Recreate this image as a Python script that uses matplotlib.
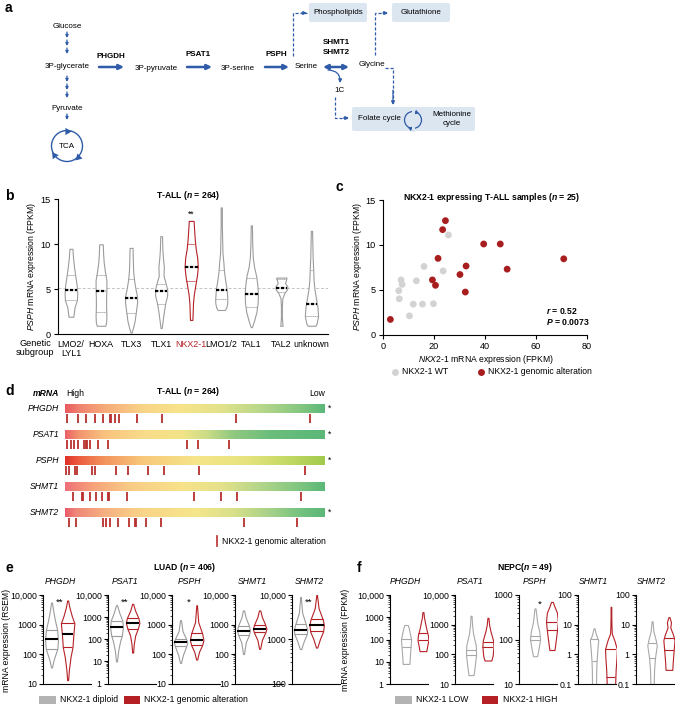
import numpy as np
import matplotlib
matplotlib.use("Agg")
import matplotlib.pyplot as plt
from matplotlib.patches import FancyBboxPatch, Circle, Rectangle, FancyArrowPatch
from matplotlib.colors import LinearSegmentedColormap
from matplotlib.ticker import FixedLocator, LogLocator, NullFormatter

plt.rcParams["font.family"] = ["Liberation Sans", "DejaVu Sans"]
plt.rcParams["mathtext.fontset"] = "custom"
plt.rcParams["mathtext.rm"] = "Liberation Sans"
plt.rcParams["mathtext.it"] = "Liberation Sans:italic"
plt.rcParams["mathtext.bf"] = "Liberation Sans:bold"
plt.rcParams["mathtext.bfit"] = "Liberation Sans:bold:italic"

# ====== DATA ======

# b: PSPH expression by T-ALL subgroup (violin profiles)
b_groups = ["LMO2/\nLYL1", "HOXA", "TLX3", "TLX1", "NKX2-1", "LMO1/2", "TAL1", "TAL2", "unknown"]
b_median = [4.9, 4.85, 4.05, 4.8, 7.5, 4.9, 4.5, 5.1, 3.35]
b_q1 = [3.8, 2.5, 2.35, 3.4, 5.9, 3.9, 3.0, 4.75, 2.05]
b_q3 = [6.6, 6.6, 6.2, 5.6, 10.0, 7.1, 6.3, 6.2, 7.2]
b_prof_y = [
    [1.95, 2.2, 3.0, 3.8, 4.5, 5.5, 6.6, 7.6, 8.5, 9.5],
    [0.95, 1.3, 2.0, 3.0, 4.0, 5.0, 6.0, 7.0, 8.0, 9.0, 10.0],
    [0.2, 0.8, 1.5, 2.5, 3.5, 4.2, 5.0, 6.0, 7.0, 8.0, 9.6],
    [0.7, 1.5, 2.5, 3.5, 4.3, 5.0, 5.8, 6.5, 7.5, 8.5, 9.5, 10.9],
    [1.6, 2.5, 3.5, 4.5, 5.5, 6.5, 7.5, 8.5, 9.5, 10.5, 11.5, 12.6],
    [2.7, 3.0, 3.5, 4.0, 5.0, 6.0, 7.0, 8.0, 9.0, 10.5, 12.0, 14.1],
    [0.8, 1.5, 2.5, 3.5, 4.5, 5.5, 6.5, 7.5, 8.5, 10.0, 12.1],
    [0.95, 1.2, 2.0, 3.0, 4.0, 4.6, 5.0, 5.3, 5.7, 6.0, 6.3],
    [0.95, 1.2, 2.0, 3.0, 4.0, 5.0, 6.0, 7.0, 8.5, 10.0, 11.5],
]
b_prof_w = [
    [0.08, 0.09, 0.12, 0.2, 0.21, 0.19, 0.14, 0.1, 0.07, 0.05],
    [0.14, 0.17, 0.18, 0.17, 0.17, 0.18, 0.18, 0.13, 0.09, 0.07, 0.06],
    [0.02, 0.07, 0.12, 0.16, 0.2, 0.2, 0.15, 0.1, 0.07, 0.06, 0.05],
    [0.02, 0.05, 0.09, 0.14, 0.2, 0.2, 0.14, 0.08, 0.09, 0.06, 0.04, 0.03],
    [0.04, 0.05, 0.06, 0.09, 0.14, 0.19, 0.22, 0.2, 0.15, 0.12, 0.1, 0.08],
    [0.12, 0.17, 0.2, 0.2, 0.18, 0.13, 0.09, 0.07, 0.04, 0.03, 0.02, 0.02],
    [0.02, 0.09, 0.17, 0.21, 0.22, 0.2, 0.16, 0.09, 0.05, 0.03, 0.02],
    [0.04, 0.03, 0.015, 0.015, 0.03, 0.1, 0.19, 0.2, 0.12, 0.15, 0.17],
    [0.13, 0.17, 0.22, 0.2, 0.15, 0.1, 0.07, 0.06, 0.04, 0.03, 0.02],
]
b_overall_median = 5.2

# c: NKX2-1 vs PSPH in NKX2-1 expressing samples
c_wt_x = [25.8, 16.2, 7.2, 7.6, 13.2, 6.3, 6.5, 12.0, 15.6, 19.9, 23.7, 10.5]
c_wt_y = [11.1, 7.6, 6.1, 5.6, 6.0, 4.9, 4.0, 3.4, 3.4, 3.45, 7.1, 2.1]
c_alt_x = [24.6, 23.5, 39.6, 46.1, 21.7, 71.0, 32.7, 48.8, 30.3, 19.5, 20.7, 32.4, 3.0]
c_alt_y = [12.7, 11.7, 10.1, 10.1, 8.5, 8.45, 7.65, 7.3, 6.7, 6.1, 5.5, 4.75, 1.7]

# d: rank (out of 264, high -> low) of samples with NKX2-1 alteration
d_genes = ["PHGDH", "PSAT1", "PSPH", "SHMT1", "SHMT2"]
d_n = 264
d_ranks_phgdh = [2, 13, 21, 30, 39, 46, 47, 51, 55, 73, 98, 174, 249]
d_ranks_psat1 = [2, 6, 9, 13, 19, 21, 22, 25, 33, 44, 124, 135, 167]
d_ranks_psph = [1, 4, 10, 12, 27, 30, 52, 64, 84, 101, 136, 244]
d_ranks_shmt1 = [8, 17, 18, 25, 31, 38, 44, 45, 63, 131, 158, 175, 240]
d_ranks_shmt2 = [4, 11, 39, 42, 46, 54, 65, 71, 72, 82, 97, 182, 236]
d_signif = ["*", "*", "*", "", "*"]

# e: LUAD, RSEM
e_genes = ["PHGDH", "PSAT1", "PSPH", "SHMT1", "SHMT2"]
e_ylow = [10, 1, 10, 10, 100]
e_stars = ["**", "**", "*", "", "**"]
e_dip_y = [[35, 60, 100, 150, 300, 650, 1500, 3000, 5500],
           [10, 30, 80, 150, 350, 700, 1500, 3500],
           [50, 90, 190, 250, 330, 600, 1400],
           [100, 250, 450, 620, 900, 1800, 3000],
           [600, 900, 1300, 1650, 2200, 4000, 9000]]
e_dip_w = [[0.03, 0.12, 0.25, 0.36, 0.4, 0.35, 0.2, 0.1, 0.03],
           [0.03, 0.1, 0.22, 0.33, 0.4, 0.36, 0.18, 0.03],
           [0.03, 0.14, 0.36, 0.42, 0.34, 0.12, 0.03],
           [0.03, 0.14, 0.34, 0.4, 0.34, 0.12, 0.04],
           [0.04, 0.2, 0.38, 0.42, 0.32, 0.1, 0.02]]
e_alt_y = [[13, 30, 80, 170, 500, 1100, 2000, 4000, 6500],
           [25, 60, 150, 300, 550, 900, 2000, 4000],
           [65, 120, 200, 300, 500, 1200, 4500],
           [150, 300, 550, 720, 1000, 1800, 3000],
           [650, 1000, 1500, 2100, 2800, 5000, 10000]]
e_alt_w = [[0.03, 0.08, 0.18, 0.3, 0.36, 0.42, 0.25, 0.1, 0.03],
           [0.03, 0.07, 0.16, 0.32, 0.42, 0.36, 0.15, 0.03],
           [0.03, 0.15, 0.34, 0.42, 0.34, 0.1, 0.02],
           [0.03, 0.14, 0.36, 0.42, 0.34, 0.14, 0.04],
           [0.04, 0.2, 0.4, 0.45, 0.38, 0.12, 0.02]]
e_dip_med = [330, 350, 250, 620, 1650]
e_alt_med = [480, 550, 300, 720, 2100]
e_dip_quart = [[150, 650], [140, 700], [190, 330], [450, 900], [1300, 2200]]
e_alt_quart = [[170, 1100], [300, 900], [200, 500], [550, 1000], [1500, 2800]]

# f: NEPC, FPKM
f_genes = ["PHGDH", "PSAT1", "PSPH", "SHMT1", "SHMT2"]
f_ylow = [1, 10, 10, 0.1, 0.1]
f_yhigh = [10000, 10000, 1000, 100, 100]
f_stars = ["", "", "*", "", ""]
f_low_y = [[8, 15, 40, 100, 200, 350, 450],
           [20, 40, 100, 200, 500, 1000, 2000],
           [42, 60, 100, 150, 250, 400, 500],
           [0.1, 0.3, 0.6, 1.5, 3.0, 4.5, 7.5],
           [0.1, 0.3, 0.8, 2, 3, 6, 13]]
f_low_w = [[0.2, 0.22, 0.26, 0.3, 0.22, 0.15, 0.1],
           [0.15, 0.22, 0.3, 0.28, 0.12, 0.06, 0.03],
           [0.12, 0.2, 0.3, 0.25, 0.12, 0.06, 0.03],
           [0.12, 0.13, 0.15, 0.2, 0.25, 0.12, 0.03],
           [0.1, 0.12, 0.18, 0.28, 0.22, 0.08, 0.03]]
f_high_y = [[30, 50, 90, 150, 300, 600, 1000, 1700],
            [62, 90, 190, 300, 600, 1000, 1700],
            [58, 80, 160, 250, 400, 550, 700],
            [0.1, 0.3, 0.8, 1.5, 3, 5, 10, 20, 40],
            [0.3, 0.5, 1.4, 3, 4.5, 8, 12, 18]]
f_high_w = [[0.2, 0.25, 0.32, 0.3, 0.2, 0.12, 0.06, 0.03],
            [0.2, 0.28, 0.33, 0.3, 0.15, 0.07, 0.03],
            [0.15, 0.2, 0.3, 0.35, 0.3, 0.15, 0.05],
            [0.25, 0.28, 0.33, 0.35, 0.2, 0.05, 0.03, 0.02, 0.02],
            [0.2, 0.22, 0.28, 0.33, 0.25, 0.08, 0.12, 0.03]]
f_low_lines = [[45, 110], [95, 140], [100, 120], [0.6, 3.2], [0.78, 2.4]]
f_high_lines = [[100, 190], [180, 260], [165, 245], [0.17, 1.55], [1.4, 3.5]]

# ====== STYLE ======
W, H = 683, 709
BLUE = "#2f5ba8"
BOX = "#dce6f1"
GREY = "#9c9c9c"
RED = "#b52025"
FS = 6.2
NARROW = ["Liberation Sans Narrow", "Liberation Sans", "DejaVu Sans"]

fig = plt.figure(figsize=(W / 100, H / 100), dpi=100)


def px_ax(x0, y0, x1, y1):
    return fig.add_axes([x0 / W, 1 - y1 / H, (x1 - x0) / W, (y1 - y0) / H])


def violin(ax, pos, ys, ws, color, lines=(), line_colors=(), line_styles=(), line_widths=(), log=False):
    ys = np.asarray(ys, float)
    ws = np.asarray(ws, float)
    ax.fill_betweenx(ys, pos - ws, pos + ws, facecolor="white", edgecolor=color, lw=0.8, zorder=2)
    key = np.log10(ys) if log else ys
    for val, lc, ls, lw in zip(lines, line_colors, line_styles, line_widths):
        k = np.log10(val) if log else val
        hw = np.interp(k, key, ws)
        ax.plot([pos - hw, pos + hw], [val, val], color=lc, ls=ls, lw=lw, zorder=3,
                solid_capstyle="butt")


def log_labels(vals):
    out = []
    for v in vals:
        if v >= 10000:
            out.append(f"{int(v):,}")
        elif v >= 1:
            out.append(str(int(v)))
        else:
            out.append(str(v))
    return out


# ====== PANEL b ======
ax_b = px_ax(58, 199.3, 328, 334.3)
ax_b.set_xlim(-0.43, 8.55)
ax_b.set_ylim(0, 15)
ax_b.axhline(b_overall_median, color="#c4c4c4", ls=(0, (3, 2)), lw=0.7, zorder=0)
for i in range(len(b_groups)):
    col = RED if b_groups[i] == "NKX2-1" else GREY
    violin(ax_b, i, b_prof_y[i], b_prof_w[i], col,
           lines=[b_q1[i], b_q3[i], b_median[i]],
           line_colors=[col, col, "black"],
           line_styles=[(0, (1.2, 0.8)), (0, (1.2, 0.8)), (0, (1.5, 0.7))],
           line_widths=[0.7, 0.7, 1.6])
ax_b.set_xticks(range(len(b_groups)))
ax_b.set_xticklabels(b_groups, fontsize=FS + 0.2, linespacing=1.0)
ax_b.get_xticklabels()[4].set_color(RED)
ax_b.tick_params(axis="x", length=0, pad=4)
ax_b.set_yticks([0, 5, 10, 15])
ax_b.tick_params(axis="y", labelsize=FS + 0.4, length=3, width=0.8, pad=2)
ax_b.text(4, 13.3, "**", ha="center", va="center", fontsize=FS)
for s in ["top", "right"]:
    ax_b.spines[s].set_visible(False)

# ====== PANEL c ======
ax_c = px_ax(382.7, 200, 586.7, 334.7)
ax_c.scatter(c_wt_x, c_wt_y, s=24, color="#d3d3d3", edgecolors="none", zorder=3)
ax_c.scatter(c_alt_x, c_alt_y, s=24, color="#a81d1d", edgecolors="none", zorder=3)
ax_c.set_xlim(0, 80)
ax_c.set_ylim(0, 15)
ax_c.set_xticks([0, 20, 40, 60, 80])
ax_c.set_yticks([0, 5, 10, 15])
ax_c.tick_params(labelsize=FS + 0.4, length=3, width=0.8, pad=2)
for s in ["top", "right"]:
    ax_c.spines[s].set_visible(False)

# ====== PANEL d ======
ax_d = px_ax(65, 398, 325, 530)
d_colors = [
    [(0, "#ea5a5e"), (0.05, "#f08070"), (0.15, "#f6aa7a"), (0.3, "#f9d488"), (0.45, "#f7e48a"),
     (0.6, "#e2e28a"), (0.75, "#b9d88a"), (0.9, "#88c882"), (1, "#5bb879")],
    [(0, "#ec6068"), (0.05, "#f3946f"), (0.15, "#f8c27e"), (0.3, "#f9dc8a"), (0.45, "#f3e488"),
     (0.55, "#c9dc86"), (0.65, "#8fc880"), (0.8, "#6abd7b"), (1, "#5bb879")],
    [(0, "#e0302a"), (0.05, "#ec5a3e"), (0.15, "#f3945e"), (0.3, "#f8c87a"), (0.5, "#f6e48a"),
     (0.7, "#e6e47e"), (0.85, "#c5da66"), (1, "#a2ca4c")],
    [(0, "#ee7078"), (0.1, "#f6a07a"), (0.25, "#f9cc86"), (0.45, "#f8e28a"), (0.6, "#e5e28a"),
     (0.75, "#b4d68a"), (0.9, "#80c680"), (1, "#5bb879")],
    [(0, "#ec5a6a"), (0.04, "#ef8578"), (0.15, "#f6b080"), (0.3, "#f9d488"), (0.5, "#f6e68a"),
     (0.65, "#d8e08a"), (0.8, "#a2d088"), (0.92, "#70c07e"), (1, "#5bb879")],
]
d_ranks = [d_ranks_phgdh, d_ranks_psat1, d_ranks_psph, d_ranks_shmt1, d_ranks_shmt2]
grad = np.linspace(0, 1, 256).reshape(1, -1)
for i, gene in enumerate(d_genes):
    top = 404 + 26 * i
    cmap = LinearSegmentedColormap.from_list(gene, d_colors[i])
    ax_d.imshow(grad, cmap=cmap, aspect="auto", extent=(0, d_n, top + 8.7, top), zorder=1)
    ax_d.vlines(d_ranks[i], top + 9.5, top + 18.5, color="#b8302e", lw=1.3, zorder=2)
ax_d.set_xlim(0, d_n)
ax_d.set_ylim(530, 398)
ax_d.axis("off")

# ====== PANEL e ======
e_x = [43, 108, 172, 235, 292]
for i, gene in enumerate(e_genes):
    ax = px_ax(e_x[i], 595, e_x[i] + 48, 683.5)
    ax.set_yscale("log")
    ax.set_ylim(e_ylow[i], 10000)
    ax.set_xlim(-0.53, 2.45)
    violin(ax, 0, e_dip_y[i], e_dip_w[i], GREY,
           lines=[e_dip_quart[i][0], e_dip_quart[i][1], e_dip_med[i]],
           line_colors=[GREY, GREY, "black"], line_styles=["-", "-", "-"],
           line_widths=[0.8, 0.8, 1.5], log=True)
    violin(ax, 1, e_alt_y[i], e_alt_w[i], RED,
           lines=[e_alt_quart[i][0], e_alt_quart[i][1], e_alt_med[i]],
           line_colors=[RED, RED, "black"], line_styles=["-", "-", "-"],
           line_widths=[0.8, 0.8, 1.5], log=True)
    ticks = [v for v in [0.1, 1, 10, 100, 1000, 10000] if e_ylow[i] <= v <= 10000]
    ax.yaxis.set_major_locator(FixedLocator(ticks))
    ax.set_yticklabels(log_labels(ticks))
    ax.yaxis.set_minor_locator(LogLocator(base=10, subs=np.arange(2, 10)))
    ax.yaxis.set_minor_formatter(NullFormatter())
    ax.tick_params(axis="y", which="major", labelsize=6.3, length=3, width=0.8, pad=1.5)
    ax.tick_params(axis="y", which="minor", length=1.5, width=0.5)
    ax.set_xticks([])
    for s in ["top", "right"]:
        ax.spines[s].set_visible(False)
    if e_stars[i]:
        ax.text(0.5, 10 ** (np.log10(10000) - 0.08 * (4 - np.log10(e_ylow[i]))), e_stars[i],
                ha="center", va="center", fontsize=FS + 0.6)
    fig.text((e_x[i] + 17) / W, 1 - 582 / H, gene, ha="center", va="center",
             fontsize=FS, style="italic")

# ====== PANEL f ======
f_x = [390, 455, 519, 578, 636]
for i, gene in enumerate(f_genes):
    ax = px_ax(f_x[i], 595, f_x[i] + 38, 684)
    ax.set_yscale("log")
    ax.set_ylim(f_ylow[i], f_yhigh[i])
    ax.set_xlim(-0.95, 1.3)
    violin(ax, 0, f_low_y[i], f_low_w[i], "#a8a8a8",
           lines=f_low_lines[i], line_colors=["#a8a8a8"] * 2, line_styles=["-"] * 2,
           line_widths=[0.8, 0.8], log=True)
    violin(ax, 1, f_high_y[i], f_high_w[i], RED,
           lines=f_high_lines[i], line_colors=[RED] * 2, line_styles=["-"] * 2,
           line_widths=[0.8, 0.8], log=True)
    ticks = [v for v in [0.1, 1, 10, 100, 1000, 10000] if f_ylow[i] <= v <= f_yhigh[i]]
    ax.yaxis.set_major_locator(FixedLocator(ticks))
    ax.set_yticklabels(log_labels(ticks))
    ax.yaxis.set_minor_locator(LogLocator(base=10, subs=np.arange(2, 10)))
    ax.yaxis.set_minor_formatter(NullFormatter())
    ax.tick_params(axis="y", which="major", labelsize=6.3, length=3, width=0.8, pad=1.5)
    ax.tick_params(axis="y", which="minor", length=1.5, width=0.5)
    ax.set_xticks([])
    for s in ["top", "right"]:
        ax.spines[s].set_visible(False)
    if f_stars[i]:
        lo, hi = np.log10(f_ylow[i]), np.log10(f_yhigh[i])
        ax.text(0.3, 10 ** (hi - 0.1 * (hi - lo)), f_stars[i], ha="center", va="center", fontsize=FS + 0.6)
    fig.text((f_x[i] + 15) / W, 1 - 582 / H, gene, ha="center", va="center",
             fontsize=FS, style="italic")

# ====== OVERLAY: panel a diagram, labels, legends ======
ov = fig.add_axes([0, 0, 1, 1])
ov.set_xlim(0, W)
ov.set_ylim(H, 0)
ov.axis("off")


def arrow(x0, y0, x1, y1, lw=1.8, style="-|>", ms=7):
    ov.add_patch(FancyArrowPatch((x0, y0), (x1, y1), arrowstyle=style, color=BLUE, lw=lw,
                                 mutation_scale=ms, shrinkA=0, shrinkB=0))


def dashed(xs, ys):
    ov.plot(xs, ys, color=BLUE, lw=0.9, ls=(0, (2.5, 1.5)))
    arrow(xs[-2] + (xs[-1] - xs[-2]) * 0.6, ys[-2] + (ys[-1] - ys[-2]) * 0.6, xs[-1], ys[-1],
          lw=0.9, ms=5)


def atext(x, y, s, bold=False):
    ov.text(x, y, s, fontsize=5.8, family=NARROW, fontweight="bold" if bold else "normal",
            ha="center", va="center", linespacing=1.3)


for lab, x, y in [("a", 5, 8), ("b", 5, 196), ("c", 336, 187), ("d", 5, 391), ("e", 5, 568), ("f", 357, 568)]:
    ov.text(x, y, lab, fontsize=10, fontweight="bold", ha="left", va="center")

atext(67, 26, "Glucose")
atext(67, 66, "3P-glycerate")
atext(67, 108, "Pyruvate")
for yy in [32, 40, 48, 76, 84, 92, 114]:
    arrow(67, yy, 67, yy + 6, lw=0.9, ms=4)
ov.add_patch(Circle((67, 146), 15.5, fill=False, ec=BLUE, lw=1.0))
atext(67, 146, "TCA")
for ang in [90, -45, -145]:
    t = np.deg2rad(ang)
    ov.plot(67 + 15.5 * np.cos(t), 146 - 15.5 * np.sin(t), marker=(3, 0, ang - 180),
            color=BLUE, ms=6, mew=0)

atext(111, 56, "PHGDH", bold=True)
arrow(99, 67, 124, 67)
atext(156, 68, "3P-pyruvate")
atext(198, 54, "PSAT1", bold=True)
arrow(187, 67, 212, 67)
atext(238, 68, "3P-serine")
atext(276, 55, "PSPH", bold=True)
arrow(265, 67, 289, 67)
atext(306, 66, "Serine")
atext(336, 43, "SHMT1", bold=True)
atext(336, 53, "SHMT2", bold=True)
arrow(323, 67, 349, 67, style="<|-|>")
atext(372, 65, "Glycine")
ov.add_patch(FancyArrowPatch((328, 70), (340, 83), arrowstyle="-|>", color=BLUE, lw=0.9,
                             mutation_scale=5, connectionstyle="arc3,rad=-0.5",
                             shrinkA=0, shrinkB=0))
atext(340, 91, "1C")

for (x0, y0, x1, y1) in [(309, 3, 367, 22), (392, 3, 450, 22), (352, 107, 475, 131)]:
    ov.add_patch(FancyBboxPatch((x0, y0), x1 - x0, y1 - y0, boxstyle="round,pad=0,rounding_size=2",
                                fc=BOX, ec="none"))
atext(338, 13, "Phospholipids")
atext(421, 13, "Glutathione")
atext(379, 119, "Folate cycle")
atext(452, 119, "Methionine\ncycle")
ov.add_patch(Circle((413, 120), 8.5, fill=False, ec=BLUE, lw=0.9))
ov.add_patch(Rectangle((411.5, 108), 3, 24, fc=BOX, ec="none", zorder=3))
ov.plot(413 + 8.5 * np.cos(np.deg2rad(70)), 120 - 8.5 * np.sin(np.deg2rad(70)),
        marker=(3, 0, -110), color=BLUE, ms=4, mew=0)
ov.plot(413 + 8.5 * np.cos(np.deg2rad(-110)), 120 - 8.5 * np.sin(np.deg2rad(-110)),
        marker=(3, 0, 70), color=BLUE, ms=4, mew=0)

dashed([293, 293, 307], [56, 13, 13])
dashed([375, 375, 388], [55, 13, 13])
dashed([385, 393, 393], [68, 68, 105])
dashed([335, 335, 349], [97, 118, 118])

# panel b labels
ov.text(188, 195, r"T-ALL ($\mathbfit{n}$ = 264)", fontsize=FS, fontweight="bold", ha="center", va="center")
ov.text(31, 266, r"$\mathit{PSPH}$ mRNA expression (FPKM)", fontsize=FS, rotation=90, ha="center", va="center")
ov.text(35, 348, "Genetic\nsubgroup", fontsize=FS + 0.4, ha="center", va="center", linespacing=1.0)

# panel c labels
ov.text(492, 197, r"NKX2-1 expressing T-ALL samples ($\mathbfit{n}$ = 25)", fontsize=FS,
        fontweight="bold", ha="center", va="center")
ov.text(357, 266, r"$\mathit{PSPH}$ mRNA expression (FPKM)", fontsize=FS, rotation=90, ha="center", va="center")
ov.text(486, 360, r"$\mathit{NKX2}$-$\mathit{1}$ mRNA expression (FPKM)", fontsize=FS, ha="center", va="center")
ov.text(546, 311, r"$\mathbfit{r}$ = 0.52", fontsize=FS, fontweight="bold", ha="left", va="center")
ov.text(546, 322, r"$\mathbfit{P}$ = 0.0073", fontsize=FS, fontweight="bold", ha="left", va="center")
ov.plot(395, 372, "o", color="#d3d3d3", ms=5, mew=0)
ov.text(402, 372, "NKX2-1 WT", fontsize=FS, ha="left", va="center")
ov.plot(481, 372, "o", color="#a81d1d", ms=5, mew=0)
ov.text(488, 372, "NKX2-1 genomic alteration", fontsize=FS, ha="left", va="center")

# panel d labels
ov.text(59, 393, "mRNA", fontsize=FS, fontweight="bold", style="italic", ha="right", va="center")
ov.text(66, 393, "High", fontsize=FS, ha="left", va="center")
ov.text(325, 393, "Low", fontsize=FS, ha="right", va="center")
ov.text(188, 392, r"T-ALL ($\mathbfit{n}$ = 264)", fontsize=FS, fontweight="bold", ha="center", va="center")
for i, gene in enumerate(d_genes):
    top = 404 + 26 * i
    ov.text(59, top + 4.5, gene, fontsize=FS, style="italic", ha="right", va="center")
    if d_signif[i]:
        ov.text(330, top + 4.5, d_signif[i], fontsize=FS, ha="center", va="center")
ov.plot([217, 217], [536, 546], color="#b8302e", lw=1.2)
ov.text(222, 541, "NKX2-1 genomic alteration", fontsize=FS, ha="left", va="center")

# panel e labels / legend
ov.text(185, 568, r"LUAD ($\mathbfit{n}$ = 406)", fontsize=FS, fontweight="bold", ha="center", va="center")
ov.text(7, 640, "mRNA expression (RSEM)", fontsize=FS, rotation=90, ha="center", va="center")
ov.add_patch(Rectangle((39, 696), 17, 8, fc="#b3b3b3", ec="none"))
ov.text(60, 700, "NKX2-1 diploid", fontsize=FS, ha="left", va="center")
ov.add_patch(Rectangle((124, 696), 16, 8, fc=RED, ec="none"))
ov.text(144, 700, "NKX2-1 genomic alteration", fontsize=FS, ha="left", va="center")

# panel f labels / legend
ov.text(525, 568, r"NEPC($\mathbfit{n}$ = 49)", fontsize=FS, fontweight="bold", ha="center", va="center")
ov.text(345, 640, "mRNA expression (FPKM)", fontsize=FS, rotation=90, ha="center", va="center")
ov.add_patch(Rectangle((395, 696), 17, 8, fc="#b3b3b3", ec="none"))
ov.text(416, 700, "NKX2-1 LOW", fontsize=FS, ha="left", va="center")
ov.add_patch(Rectangle((482, 696), 16, 8, fc=RED, ec="none"))
ov.text(503, 700, "NKX2-1 HIGH", fontsize=FS, ha="left", va="center")

fig.savefig("out.png", dpi=100)
